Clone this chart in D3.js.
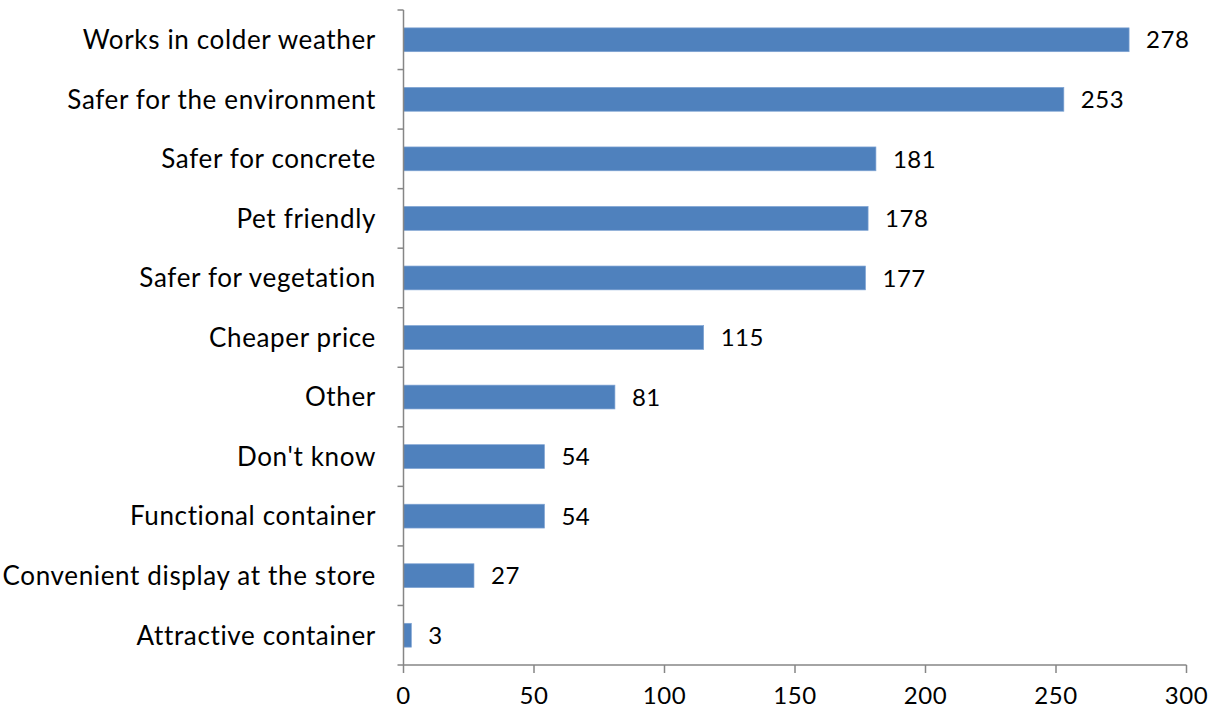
<!DOCTYPE html>
<html><head><meta charset="utf-8">
<script src="https://cdn.jsdelivr.net/npm/d3@7"></script>
<style>body{margin:0;background:#fff}svg{display:block}text{font-family:Lato,"Open Sans",sans-serif;fill:#000}</style>
</head><body><svg id="c" width="1215" height="710"></svg>
<script>
const categories = ["Works in colder weather","Safer for the environment","Safer for concrete","Pet friendly","Safer for vegetation","Cheaper price","Other","Don't know","Functional container","Convenient display at the store","Attractive container"];
const values = [278,253,181,178,177,115,81,54,54,27,3];
const xTicks = [0,50,100,150,200,250,300];

const svg = d3.select("#c");
const L = 403.5, R = 1186.5, T = 10, B = 665;
const x = d3.scaleLinear().domain([0,300]).range([L,R]);
const y = d3.scaleBand().domain(categories).range([T,B]).paddingInner(0.6).paddingOuter(0.3);
const yb = d3.scaleBand().domain(categories).range([T,B]);

svg.selectAll("rect.bar").data(values).join("rect")
  .attr("x", x(0)).attr("y",(d,i)=>y(categories[i]))
  .attr("width", d=>x(d)-x(0)).attr("height", y.bandwidth())
  .attr("fill","#4F81BD").attr("stroke","#7ea3d3").attr("stroke-width",0.7);

svg.selectAll("text.val").data(values).join("text")
  .attr("x", d=>x(d)+17).attr("y",(d,i)=>y(categories[i])+y.bandwidth()/2)
  .attr("dy","0.36em").attr("font-size",24).attr("letter-spacing","0.5px").text(d=>d);

// axes
const axc = "#868686";
svg.append("line").attr("x1",L).attr("x2",L).attr("y1",T).attr("y2",B).attr("stroke",axc).attr("stroke-width",1.5);
svg.append("line").attr("x1",L).attr("x2",R).attr("y1",B).attr("y2",B).attr("stroke",axc).attr("stroke-width",1.5);
const yTickPos = categories.map(c=>yb(c)).concat([B]);
svg.selectAll("line.yt").data(yTickPos).join("line")
  .attr("x1",L-6).attr("x2",L).attr("y1",d=>d).attr("y2",d=>d).attr("stroke",axc).attr("stroke-width",1.5);
svg.selectAll("line.xt").data(xTicks).join("line")
  .attr("x1",d=>x(d)).attr("x2",d=>x(d)).attr("y1",B).attr("y2",B+8).attr("stroke",axc).attr("stroke-width",1.5);
svg.selectAll("text.xl").data(xTicks).join("text")
  .attr("x",d=>x(d)).attr("y",704).attr("text-anchor","middle").attr("font-size",24).attr("letter-spacing","0.5px").text(d=>d);
svg.selectAll("text.yl").data(categories).join("text")
  .attr("x",376).attr("y",c=>yb(c)+yb.bandwidth()/2).attr("dy","0.36em")
  .attr("text-anchor","end").attr("font-size",26).attr("letter-spacing","0.65px").text(c=>c);
</script></body></html>
